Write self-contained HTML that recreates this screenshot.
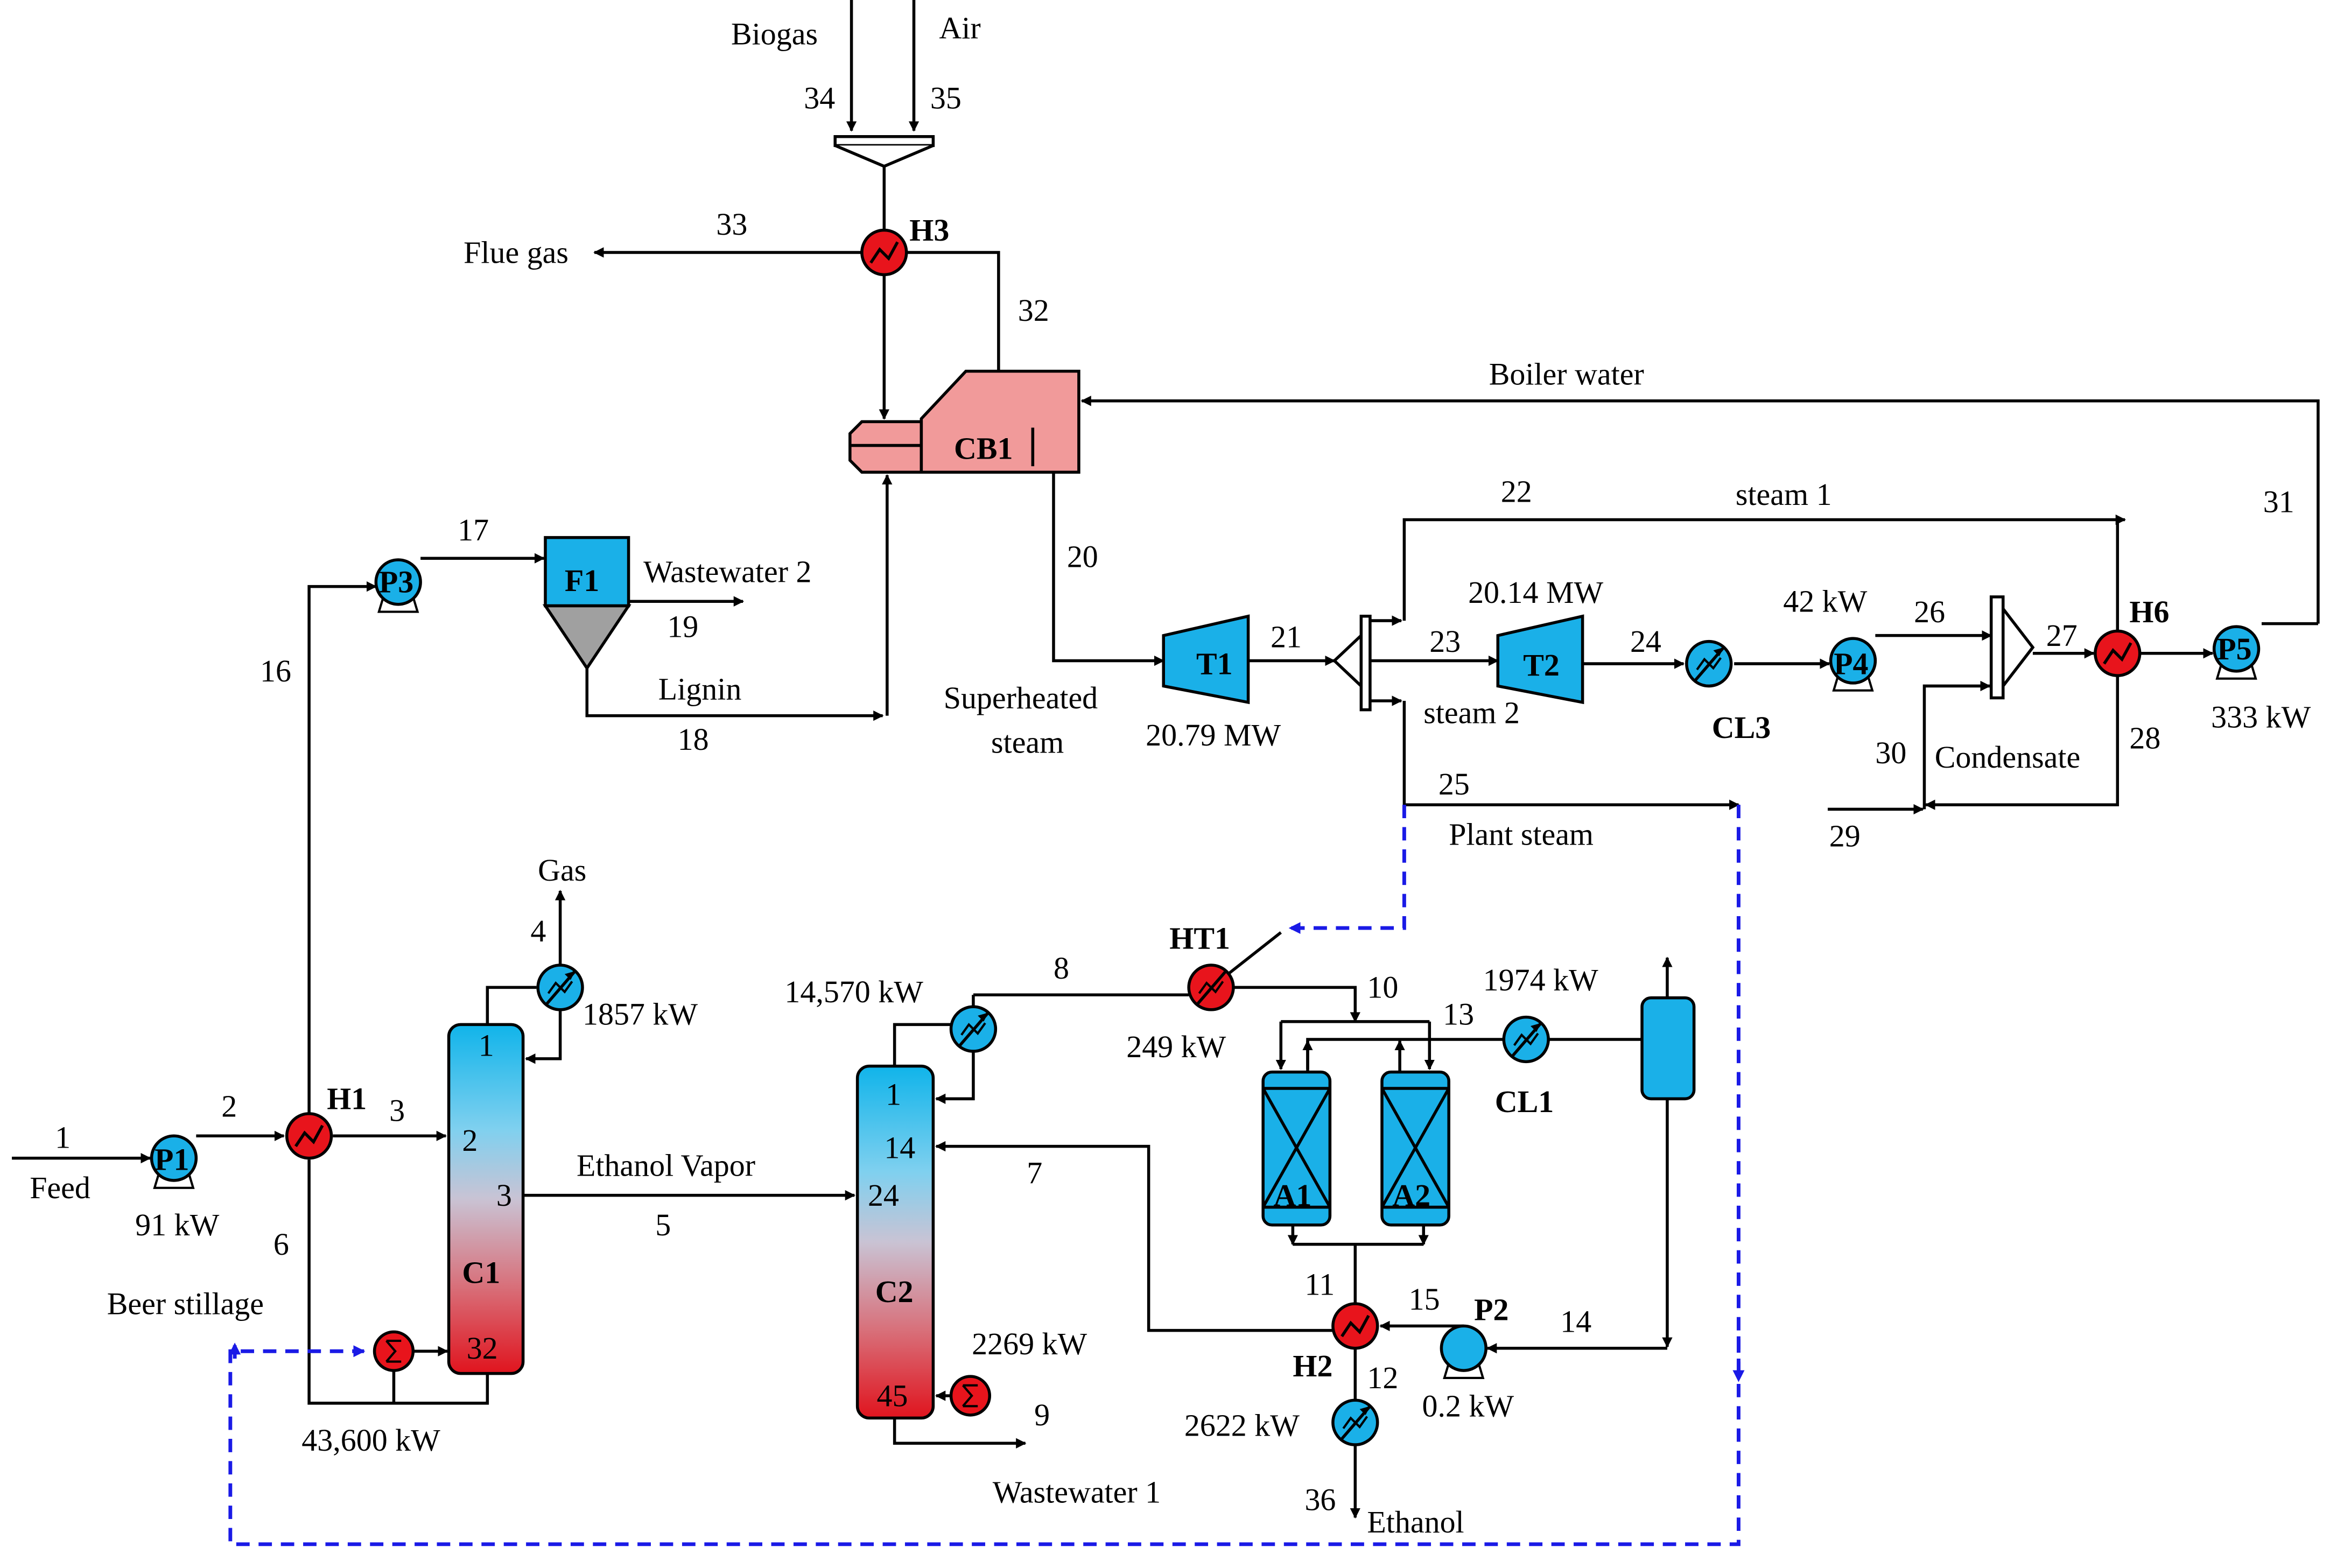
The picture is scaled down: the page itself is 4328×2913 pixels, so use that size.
<!DOCTYPE html>
<html><head><meta charset="utf-8">
<style>
html,body{margin:0;padding:0;background:#fff;}
svg{display:block;}
text{font-family:"Liberation Serif",serif;font-size:21px;fill:#000;}
.b{font-weight:bold;}
</style></head>
<body>
<svg width="4328" height="2913" viewBox="0 0 1568 1056" preserveAspectRatio="none" xmlns="http://www.w3.org/2000/svg">
<defs>
<marker id="a" viewBox="0 0 10 10" refX="9" refY="5" markerWidth="7" markerHeight="7" orient="auto" markerUnits="userSpaceOnUse"><path d="M0,0 L10,5 L0,10 z" fill="#000"/></marker>
<marker id="ab" viewBox="0 0 10 10" refX="9" refY="5" markerWidth="8" markerHeight="8" orient="auto" markerUnits="userSpaceOnUse"><path d="M0,0 L10,5 L0,10 z" fill="#1a1ae6"/></marker>
<linearGradient id="col" x1="0" y1="0" x2="0" y2="1">
<stop offset="0" stop-color="#10b4ea"/><stop offset="0.3" stop-color="#7fd0ef"/><stop offset="0.5" stop-color="#c9c3d4"/><stop offset="0.75" stop-color="#d8707a"/><stop offset="1" stop-color="#e0141e"/></linearGradient>
<g id="hx"><circle r="15" fill="#e8141c" stroke="#000" stroke-width="2"/><path d="M-9,7 L-3,-2 L3,4 L9,-7" fill="none" stroke="#000" stroke-width="2"/></g>
<g id="cl"><circle r="15" fill="#1ab0e8" stroke="#000" stroke-width="2"/><path d="M-9,11 L10,-11" stroke="#000" stroke-width="2"/><path d="M-8,4 L-3,-3 L3,3 L8,-4" fill="none" stroke="#000" stroke-width="1.5"/><path d="M10,-11 l-7,2 l4,4z" fill="#000"/></g>
<g id="ht"><circle r="15" fill="#e8141c" stroke="#000" stroke-width="2"/><path d="M-9,11 L10,-11" stroke="#000" stroke-width="2"/><path d="M-8,4 L-3,-3 L3,3 L8,-4" fill="none" stroke="#000" stroke-width="1.5"/></g>
<g id="pm"><path d="M-10,10 L-13,20 L13,20 L10,10" fill="#fff" stroke="#000" stroke-width="1.5"/><circle r="15" fill="#1ab0e8" stroke="#000" stroke-width="2"/></g>
<g id="rb"><circle r="13" fill="#e8141c" stroke="#000" stroke-width="2"/><path d="M-5,-7 L5,-7 M-5,7 L5,7 M-5,-7 L1,0 L-5,7" fill="none" stroke="#000" stroke-width="1.5"/></g>
</defs>
<g stroke="#000" stroke-width="2" fill="none">
<path d="M573,0 V88" marker-end="url(#a)"/><path d="M615,0 V88" marker-end="url(#a)"/>
<path d="M562,92 H628 V98 H562 Z" fill="#fff"/><path d="M562,98 L595,112 L628,98" fill="#fff"/>
<path d="M595,112 V155"/>
<path d="M580,170 H400" marker-end="url(#a)"/>
<path d="M610,170 H672 V250"/>
<path d="M595,185 V282" marker-end="url(#a)"/>
<path d="M620,282 L650,250 L726,250 L726,318 L620,318 Z" fill="#f19a9a"/>
<path d="M580,284 H620 V318 H580 L572,310 V292 Z" fill="#f19a9a"/>
<path d="M572,300 H620"/><path d="M695,288 V314"/>
<path d="M1560,420 V270 H728" marker-end="url(#a)"/>
<path d="M1522,420 H1560" />
<path d="M709,318 V445 H783" marker-end="url(#a)"/>
<path d="M783,428 L840,415 L840,473 L783,462 Z" fill="#1ab0e8"/>
<path d="M1008,428 L1065,415 L1065,473 L1008,462 Z" fill="#1ab0e8"/>
<path d="M840,445 H898" marker-end="url(#a)"/>
<path d="M898,445 L916,428 L916,462 Z" fill="#fff"/><path d="M916,415 H922 V478 H916 Z" fill="#fff"/>
<path d="M945,418 V350 H1430" marker-end="url(#a)"/>
<path d="M922,418 H943" marker-end="url(#a)"/>
<path d="M922,445 H1008" marker-end="url(#a)"/>
<path d="M922,472 H943" marker-end="url(#a)"/>
<path d="M945,472 V542 H1170" marker-end="url(#a)"/>
<path d="M1065,447 H1133" marker-end="url(#a)"/>
<path d="M1167,447 H1231" marker-end="url(#a)"/>
<path d="M1262,428 H1340" marker-end="url(#a)"/>
<path d="M1340,402 H1348 V470 H1340 Z" fill="#fff"/><path d="M1348,410 L1368,436 L1348,462 Z" fill="#fff"/>
<path d="M1368,440 H1409" marker-end="url(#a)"/>
<path d="M1440,440 H1489" marker-end="url(#a)"/>
<path d="M1425,350 V425"/>
<path d="M1425,455 V542 H1296" marker-end="url(#a)"/>
<path d="M1230,545 H1294" marker-end="url(#a)"/>
<path d="M1295,545 V462 H1339" marker-end="url(#a)"/>
<path d="M8,780 H101" marker-end="url(#a)"/>
<path d="M132,765 H191" marker-end="url(#a)"/>
<path d="M224,765 H300" marker-end="url(#a)"/>
<path d="M208,750 V395 H253" marker-end="url(#a)"/>
<path d="M208,781 V945 H328 V925"/>
<path d="M283,376 H366" marker-end="url(#a)"/>
<path d="M367,362 H423 V408 H367 Z" fill="#1ab0e8"/>
<path d="M367,408 L395,450 L423,408 Z" fill="#a0a0a0"/>
<path d="M423,405 H500" marker-end="url(#a)"/>
<path d="M395,450 V482 H594" marker-end="url(#a)"/>
<path d="M597,482 V320" marker-end="url(#a)"/>
<rect x="302" y="690" width="50" height="235" rx="8" fill="url(#col)"/>
<path d="M328,690 V665 H361"/>
<path d="M377,650 V600" marker-end="url(#a)"/>
<path d="M377,680 V713 H354" marker-end="url(#a)"/>
<path d="M265,923 V945"/>
<path d="M278,910 H301" marker-end="url(#a)"/>
<path d="M352,805 H575" marker-end="url(#a)"/>
<rect x="577" y="718" width="51" height="237" rx="8" fill="url(#col)"/>
<path d="M602,718 V690 H640"/>
<path d="M655,670 H800"/><path d="M655,678 V670"/>
<path d="M655,708 V740 H630" marker-end="url(#a)"/>
<path d="M830,665 H912 V688" marker-end="url(#a)"/>
<path d="M862,688 H962"/><path d="M862,688 V720" marker-end="url(#a)"/><path d="M962,688 V720" marker-end="url(#a)"/>
<path d="M880,720 V700 H1012"/><path d="M880,722 V701" marker-end="url(#a)"/><path d="M942,722 V701" marker-end="url(#a)"/>
<path d="M1042,700 H1105"/>
<rect x="850" y="722" width="45" height="103" rx="6" fill="#1ab0e8"/>
<rect x="930" y="722" width="45" height="103" rx="6" fill="#1ab0e8"/>
<path d="M850,733 H895 M850,813 H895 M850,733 L895,813 M895,733 L850,813"/>
<path d="M930,733 H975 M930,813 H975 M930,733 L975,813 M975,733 L930,813"/>
<path d="M870,825 V838" marker-end="url(#a)"/><path d="M958,825 V838" marker-end="url(#a)"/>
<path d="M870,838 H958"/><path d="M912,838 V878"/>
<rect x="1105" y="672" width="35" height="68" rx="6" fill="#1ab0e8"/>
<path d="M1122,672 V645" marker-end="url(#a)"/>
<path d="M1122,740 V907" marker-end="url(#a)"/>
<path d="M1122,908 H1001" marker-end="url(#a)"/>
<path d="M985,893 H929" marker-end="url(#a)"/>
<path d="M897,896 H773 V772 H630" marker-end="url(#a)"/>
<path d="M912,908 V943"/><path d="M912,973 V1022" marker-end="url(#a)"/>
<path d="M602,955 V972 H690" marker-end="url(#a)"/>
<path d="M640,940 H630" marker-end="url(#a)"/>
</g>
<g stroke="#1a1ae6" stroke-width="2.5" fill="none" stroke-dasharray="9,6">
<path d="M945,542 V625 H868" marker-end="url(#ab)"/>
<path d="M1170,542 V1040 H155 V910 H245" marker-end="url(#ab)"/>
<path d="M1170,900 V930" marker-end="url(#ab)"/>
<path d="M158,915 V905" marker-end="url(#ab)"/>
</g>
<path d="M815,665 L862,628" stroke="#000" stroke-width="2"/>
<use href="#hx" x="595" y="170"/>
<use href="#hx" x="1425" y="440"/>
<use href="#hx" x="208" y="765"/>
<use href="#hx" x="912" y="893"/>
<use href="#ht" x="815" y="665"/>
<use href="#cl" x="1150" y="447"/>
<use href="#cl" x="377" y="665"/>
<use href="#cl" x="655" y="693"/>
<use href="#cl" x="1027" y="700"/>
<use href="#cl" x="912" y="958"/>
<use href="#rb" x="265" y="910"/>
<use href="#rb" x="653" y="940"/>
<use href="#pm" x="117" y="780"/>
<use href="#pm" x="268" y="392"/>
<use href="#pm" x="1247" y="445"/>
<use href="#pm" x="1505" y="437"/>
<use href="#pm" x="985" y="908"/>
<g>
<text x="492" y="30">Biogas</text><text x="632" y="26">Air</text>
<text x="541" y="73">34</text><text x="626" y="73">35</text>
<text x="612" y="162" class="b">H3</text>
<text x="312" y="177">Flue gas</text><text x="482" y="158">33</text><text x="685" y="216">32</text>
<text x="642" y="309" class="b">CB1</text>
<text x="1002" y="259">Boiler water</text>
<text x="1523" y="345">31</text>
<text x="718" y="382">20</text>
<text x="805" y="454" class="b">T1</text><text x="1025" y="455" class="b">T2</text>
<text x="855" y="436">21</text><text x="962" y="439">23</text>
<text x="1010" y="338">22</text><text x="1168" y="340">steam  1</text>
<text x="988" y="406">20.14 MW</text>
<text x="958" y="487">steam  2</text>
<text x="771" y="502">20.79 MW</text>
<text x="635" y="477">Superheated</text><text x="667" y="507">steam</text>
<text x="1097" y="439">24</text>
<text x="1152" y="497" class="b">CL3</text>
<text x="1200" y="412">42 kW</text>
<text x="1234" y="454" class="b" font-size="19">P4</text>
<text x="1288" y="419">26</text><text x="1377" y="435">27</text>
<text x="1433" y="419" class="b">H6</text>
<text x="1492" y="444" class="b" font-size="19">P5</text>
<text x="1488" y="490">333 kW</text>
<text x="1433" y="504">28</text><text x="1302" y="517">Condensate</text>
<text x="1262" y="514">30</text><text x="1231" y="570">29</text>
<text x="968" y="535">25</text><text x="975" y="569">Plant steam</text>
<text x="308" y="364">17</text>
<text x="255" y="399" class="b" font-size="19">P3</text>
<text x="380" y="398" class="b">F1</text>
<text x="433" y="392">Wastewater  2</text>
<text x="449" y="429">19</text>
<text x="443" y="471">Lignin</text><text x="456" y="505">18</text>
<text x="175" y="459">16</text>
<text x="362" y="593">Gas</text><text x="357" y="634">4</text>
<text x="392" y="690" font-size="19">1857 kW</text>
<text x="37" y="773">1</text><text x="20" y="807">Feed</text>
<text x="104" y="788" class="b" font-size="19">P1</text>
<text x="91" y="832">91 kW</text>
<text x="149" y="752">2</text><text x="220" y="747" class="b">H1</text><text x="262" y="755">3</text>
<text x="184" y="845">6</text><text x="72" y="885">Beer stillage</text>
<text x="322" y="711">1</text><text x="311" y="775">2</text><text x="334" y="812">3</text>
<text x="311" y="864" class="b">C1</text><text x="314" y="915">32</text>
<text x="203" y="977">43,600 kW</text>
<text x="388" y="792">Ethanol Vapor</text><text x="441" y="832">5</text>
<text x="596" y="744">1</text><text x="595" y="780">14</text><text x="584" y="812">24</text>
<text x="589" y="877" class="b">C2</text><text x="590" y="947">45</text>
<text x="528" y="675">14,570 kW</text>
<text x="709" y="659">8</text>
<text x="787" y="639" class="b">HT1</text>
<text x="758" y="712">249 kW</text>
<text x="920" y="672">10</text><text x="971" y="690">13</text>
<text x="998" y="667">1974 kW</text>
<text x="1006" y="749" class="b">CL1</text>
<text x="857" y="812" class="b">A1</text><text x="937" y="812" class="b">A2</text>
<text x="691" y="797">7</text>
<text x="878" y="872">11</text><text x="948" y="882">15</text>
<text x="992" y="889" class="b">P2</text>
<text x="1050" y="897">14</text>
<text x="957" y="954">0.2 kW</text>
<text x="870" y="927" class="b" font-size="19">H2</text>
<text x="920" y="935">12</text>
<text x="797" y="967">2622 kW</text>
<text x="878" y="1017">36</text><text x="920" y="1032">Ethanol</text>
<text x="654" y="912">2269 kW</text>
<text x="696" y="960">9</text>
<text x="668" y="1012">Wastewater  1</text>
</g>
</svg>
</body></html>
